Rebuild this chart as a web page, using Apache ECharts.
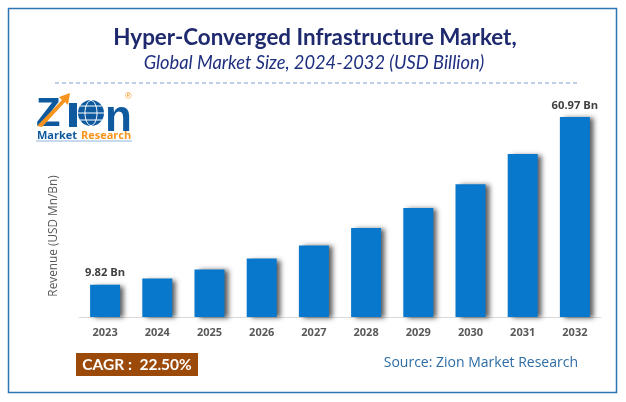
<!DOCTYPE html>
<html>
<head>
<meta charset="utf-8">
<style>
  html, body {margin: 0; padding: 0; background: #fff;}
  #chart {width: 626px; height: 402px;}
</style>
<script src="https://cdn.jsdelivr.net/npm/echarts@6/dist/echarts.min.js"></script>
</head>
<body>
<div id="chart"></div>
<script>
const years = ['2023', '2024', '2025', '2026', '2027', '2028', '2029', '2030', '2031', '2032'];
const revenue = [9.82, 11.7, 14.5, 17.8, 21.8, 27.1, 33.2, 40.5, 49.7, 60.97];
const labelledYears = ['2023', '2032'];

const titleText = 'Hyper-Converged Infrastructure Market,';
const subtitleText = 'Global Market Size, 2024-2032 (USD Billion)';
const axisTitle = 'Revenue (USD Mn/Bn)';
const cagrText = 'CAGR :  22.50%';
const sourceText = 'Source: Zion Market Research';

const chart = echarts.init(document.getElementById('chart'), null, {renderer: 'canvas'});

const logoBlue = '#0f5a9e';
const logoOrange = '#f7941d';

const logo = [
  {type: 'polygon', shape: {points: [[37, 126], [62, 100], [59, 97], [70, 93], [68, 105], [65, 102], [42, 127]]},
    style: {fill: logoOrange}, z: 12},
  {type: 'text', x: 36, y: 95, z: 11,
    style: {text: 'Z', font: 'bold 40px "Liberation Sans"', fill: logoBlue}},
  {type: 'rect', shape: {x: 69, y: 103, width: 8, height: 24}, style: {fill: logoBlue}, z: 11},
  {type: 'circle', shape: {cx: 91, cy: 113, r: 13}, style: {fill: logoBlue}, z: 11},
  {type: 'ellipse', shape: {cx: 91, cy: 113, rx: 6, ry: 12.5}, z: 12,
    style: {fill: 'none', stroke: '#fff', lineWidth: 1}},
  {type: 'line', shape: {x1: 78, y1: 113, x2: 104, y2: 113}, z: 12, style: {stroke: '#fff', lineWidth: 1}},
  {type: 'line', shape: {x1: 80, y1: 106, x2: 102, y2: 106}, z: 12, style: {stroke: '#fff', lineWidth: 1}},
  {type: 'line', shape: {x1: 80, y1: 120, x2: 102, y2: 120}, z: 12, style: {stroke: '#fff', lineWidth: 1}},
  {type: 'text', x: 105, y: 97, z: 11,
    style: {text: 'n', font: 'bold 44px "Liberation Sans"', fill: logoBlue}},
  {type: 'text', x: 125, y: 92, z: 11,
    style: {text: '®', font: '9px "Liberation Sans"', fill: logoOrange}},
  {type: 'text', x: 37, y: 130, z: 11,
    style: {text: 'Market', font: 'bold 11px "Open Sans"', fill: logoBlue}},
  {type: 'text', x: 81, y: 130, z: 11,
    style: {text: 'Research', font: 'bold 11px "Open Sans"', fill: logoOrange}},
  {type: 'line', shape: {x1: 36, y1: 141, x2: 132, y2: 141}, z: 11, style: {stroke: '#8fb4dc', lineWidth: 1}},
];

chart.setOption({
  animation: false,
  backgroundColor: '#fff',
  title: [
    {text: titleText, left: 310, top: 22, textAlign: 'center',
      textStyle: {fontFamily: 'Lato', fontWeight: 'bold', fontSize: 22.4, color: '#1f2a6e'}},
    {text: subtitleText, left: 309, top: 49, textAlign: 'center',
      textStyle: {fontFamily: 'Lato', fontStyle: 'italic', fontWeight: 'normal', fontSize: 18.3, color: '#1f2f80'}},
  ],
  grid: {left: 79, right: 25, top: 117, bottom: 85},
  xAxis: {
    type: 'category',
    data: years,
    axisLine: {lineStyle: {color: '#d9d9d9', width: 1}},
    axisTick: {show: false},
    axisLabel: {margin: 10, fontFamily: 'Open Sans', fontWeight: 700, fontSize: 11, color: '#595959'},
  },
  yAxis: {
    type: 'value',
    min: 0,
    max: 60.97,
    splitLine: {show: false},
    axisLine: {show: false},
    axisTick: {show: false},
    axisLabel: {show: false},
    name: axisTitle,
    nameLocation: 'middle',
    nameGap: 19,
    nameTextStyle: {fontFamily: 'Open Sans', fontSize: 11.8, color: '#595959', padding: [0, 38, 0, 0]},
  },
  series: [{
    type: 'bar',
    barWidth: 30,
    data: revenue.map((value, index) => ({
      value,
      label: {show: labelledYears.includes(years[index])},
    })),
    itemStyle: {
      color: '#0878cc',
      shadowColor: 'rgba(50, 50, 50, 0.8)',
      shadowBlur: 5,
      shadowOffsetX: 4,
      shadowOffsetY: 1,
    },
    label: {
      position: 'top',
      distance: 6,
      formatter: ({value}) => `${value} Bn`,
      fontFamily: 'Open Sans',
      fontWeight: 700,
      fontSize: 11.2,
      color: '#404040',
    },
  }],
  graphic: [
    {type: 'rect', shape: {x: 8.5, y: 8.5, width: 608, height: 384}, z: 0,
      style: {fill: 'none', stroke: '#2e75b6', lineWidth: 1.5}},
    {type: 'line', shape: {x1: 55, y1: 83, x2: 578, y2: 83}, z: 1,
      style: {stroke: '#7f9fd6', lineWidth: 1, lineDash: [4, 3]}},
    {type: 'rect', shape: {x: 76, y: 353, width: 122, height: 23}, z: 10, style: {fill: '#9c4a09'}},
    {type: 'text', x: 137, y: 365, z: 11,
      style: {text: cagrText, font: 'bold 15.5px "Lato"', fill: '#fff', align: 'center', verticalAlign: 'middle'}},
    {type: 'text', x: 578, y: 363, z: 11,
      style: {text: sourceText, font: '14px "Open Sans"', fill: '#2e6ca4', align: 'right', verticalAlign: 'middle'}},
    ...logo,
  ],
});
</script>
</body>
</html>
